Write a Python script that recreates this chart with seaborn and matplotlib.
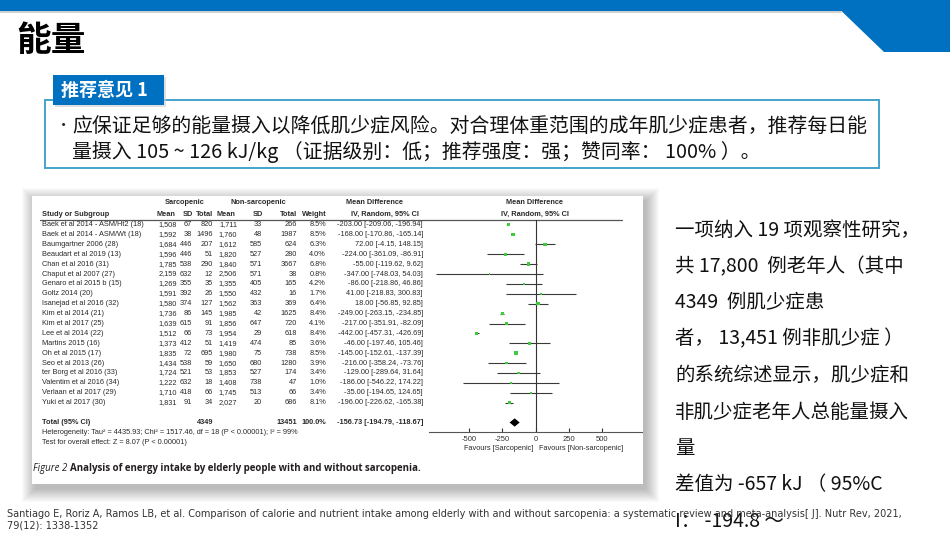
import numpy as np
import pandas as pd
import matplotlib
matplotlib.use("Agg")
import matplotlib.pyplot as plt
import seaborn as sns
from matplotlib.patches import Rectangle, Polygon

# ---------------- data ----------------
studies = [
    "Baek et al 2014 - ASM/Ht2 (18)", "Baek et al 2014 - ASM/Wt (18)", "Baumgartner 2006 (28)",
    "Beaudart et al 2019 (13)", "Chan et al 2016 (31)", "Chaput et al 2007 (27)",
    "Genaro et al 2015 b (15)", "Goltz 2014 (20)", "Isanejad et al 2016 (32)",
    "Kim et al 2014 (21)", "Kim et al 2017 (25)", "Lee et al 2014 (22)", "Martins 2015 (16)",
    "Oh et al 2015 (17)", "Seo et al 2013 (26)", "ter Borg et al 2016 (33)",
    "Valentim et al 2016 (34)", "Verlaan et al 2017 (29)", "Yuki et al 2017 (30)",
]
sar_mean = [1508, 1592, 1684, 1596, 1785, 2159, 1269, 1591, 1580, 1736, 1639, 1512, 1373, 1835, 1434, 1724, 1222, 1710, 1831]
sar_sd = [67, 38, 446, 446, 538, 632, 355, 392, 374, 86, 615, 66, 412, 72, 538, 521, 632, 418, 91]
sar_n = [820, 1496, 207, 51, 290, 12, 35, 26, 127, 145, 91, 73, 51, 695, 59, 53, 18, 66, 34]
non_mean = [1711, 1760, 1612, 1820, 1840, 2506, 1355, 1550, 1562, 1985, 1856, 1954, 1419, 1980, 1650, 1853, 1408, 1745, 2027]
non_sd = [33, 48, 585, 527, 571, 571, 405, 432, 363, 42, 647, 29, 474, 75, 680, 527, 738, 513, 20]
non_n = [266, 1987, 624, 280, 3667, 38, 165, 16, 369, 1625, 720, 618, 85, 738, 1280, 174, 47, 66, 686]
weights = [8.5, 8.5, 6.3, 4.0, 6.8, 0.8, 4.2, 1.7, 6.4, 8.4, 4.1, 8.4, 3.6, 8.5, 3.9, 3.4, 1.0, 3.4, 8.1]
md = [-203.00, -168.00, 72.00, -224.00, -55.00, -347.00, -86.00, 41.00, 18.00, -249.00, -217.00,
      -442.00, -46.00, -145.00, -216.00, -129.00, -186.00, -35.00, -196.00]
ci_low = [-209.06, -170.86, -4.15, -361.09, -119.62, -748.03, -218.86, -218.83, -56.85, -263.15,
          -351.91, -457.31, -197.46, -152.61, -358.24, -289.64, -546.22, -194.65, -226.62]
ci_high = [-196.94, -165.14, 148.15, -86.91, 9.62, 54.03, 46.86, 300.83, 92.85, -234.85, -82.09,
           -426.69, 105.46, -137.39, -73.76, 31.64, 174.22, 124.65, -165.38]
total_sar = 4349
total_non = 13451
total_weight = "100.0%"
pooled = [-156.73, -194.79, -118.67]
xticks = [-500, -250, 0, 250, 500]
heterogeneity = "Heterogeneity: Tau\u00b2 = 4435.93; Chi\u00b2 = 1517.46, df = 18 (P < 0.00001); I\u00b2 = 99%"
overall = "Test for overall effect: Z = 8.07 (P < 0.00001)"

title = "能量"
rec_label = "推荐意见 1"
rec_lines = [
    "应保证足够的能量摄入以降低肌少症风险。对合理体重范围的成年肌少症患者，推荐每日能",
    "量摄入 105 ~ 126 kJ/kg （证据级别：低；推荐强度：强；赞同率： 100% ）。",
]
side_lines = [
    "一项纳入 19 项观察性研究，",
    "共 17,800  例老年人（其中",
    "4349  例肌少症患",
    "者， 13,451 例非肌少症 ）",
    "的系统综述显示，肌少症和",
    "非肌少症老年人总能量摄入",
    "量",
    "差值为 -657 kJ （ 95%C",
    "I： -194.8 ～",
]
footer = [
    "Santiago E, Roriz A, Ramos LB, et al. Comparison of calorie and nutrient intake among elderly with and without sarcopenia: a systematic review and meta-analysis[ J]. Nutr Rev, 2021,",
    "79(12): 1338-1352",
]

# ---------------- setup ----------------
sns.set_theme(style="white")
plt.rcParams["font.family"] = ["Noto Sans CJK SC", "DejaVu Sans"]
W, H = 950, 535
fig = plt.figure(figsize=(9.5, 5.35), dpi=100)
fig.patch.set_facecolor("white")

bg = fig.add_axes([0, 0, 1, 1])
bg.set_xlim(0, W)
bg.set_ylim(H, 0)
bg.axis("off")

BLUE = "#0070C0"
# top bar + corner shape
bg.add_patch(Rectangle((0, 0), W, 11, color=BLUE, lw=0))
bg.add_patch(Polygon([(830, 0), (W, 0), (W, 52), (884, 52)], closed=True, color=BLUE, lw=0))
bg.plot([0, 841], [12, 12], color="#c8c8c8", lw=1.2)

bg.text(16, 41, title, fontsize=25, fontweight="bold", color="black", va="center", ha="left")

# recommendation box
bg.add_patch(Rectangle((45, 100), 834, 68, facecolor="white", edgecolor="#45A3CC", lw=1.4))
bg.add_patch(Rectangle((55, 77), 111, 30, color="#cccccc", lw=0, alpha=0.6))
bg.add_patch(Rectangle((53, 75), 111, 30, color=BLUE, lw=0))
bg.text(61, 90, rec_label, fontsize=13, fontweight="bold", color="white", va="center", ha="left")
bg.text(56, 126, "•", fontsize=11, color="#222", va="center", ha="left")
for i, line in enumerate(rec_lines):
    bg.text(72, 126 + 26 * i, line, fontsize=14.3, color="#111", va="center", ha="left")

# image panel with soft shadow
px0, py0, pw, ph = 32, 196, 611, 288
for k in range(14):
    bg.add_patch(Rectangle((px0 + 3 - k, py0 + 5 - k), pw + 2 * k, ph + 2 * k,
                           color="black", alpha=0.019, lw=0))
bg.add_patch(Rectangle((px0, py0), pw, ph, color="white", lw=0))

# ---------------- forest table text ----------------
TF = ["Liberation Sans", "DejaVu Sans"]
fs = 5.3
tc = "#2a2a2a"
def row_y(r):
    return 224.5 + 9.9 * r

hdr = dict(fontsize=fs, fontweight="bold", color=tc, va="center", family=TF)
bg.text(185, 203, "Sarcopenic", ha="center", **hdr)
bg.text(258, 203, "Non-sarcopenic", ha="center", **hdr)
bg.text(375, 203, "Mean Difference", ha="center", **hdr)
bg.text(535, 203, "Mean Difference", ha="center", **hdr)
bg.text(42, 214, "Study or Subgroup", ha="left", **hdr)
for x, s in [(175, "Mean"), (193, "SD"), (213, "Total"), (235, "Mean"), (263, "SD"), (297, "Total"), (327, "Weight")]:
    bg.text(x, 214, s, ha="right", **hdr)
bg.text(385, 214, "IV, Random, 95% CI", ha="center", **hdr)
bg.text(535, 214, "IV, Random, 95% CI", ha="center", **hdr)
bg.plot([40, 622], [219.5, 219.5], color="#555555", lw=0.9)

cell = dict(fontsize=fs, color=tc, va="center", family=TF)
for i, name in enumerate(studies):
    y = row_y(i)
    bg.text(42, y, name, ha="left", **cell)
    vals = [f"{sar_mean[i]:,}", f"{sar_sd[i]}", f"{sar_n[i]}", f"{non_mean[i]:,}", f"{non_sd[i]}",
            f"{non_n[i]}", f"{weights[i]:.1f}%", f"{md[i]:.2f} [{ci_low[i]:.2f}, {ci_high[i]:.2f}]"]
    for x, v in zip([177, 192, 213, 237, 262, 297, 326, 423], vals):
        bg.text(x, y, v, ha="right", **cell)

yt = row_y(20)
bg.text(42, yt, "Total (95% CI)", ha="left", **hdr)
bg.text(213, yt, f"{total_sar}", ha="right", **hdr)
bg.text(297, yt, f"{total_non}", ha="right", **hdr)
bg.text(326, yt, total_weight, ha="right", **hdr)
bg.text(423, yt, f"{pooled[0]:.2f} [{pooled[1]:.2f}, {pooled[2]:.2f}]", ha="right", **hdr)
bg.text(42, 433, heterogeneity, ha="left", **cell)
bg.text(42, 443, overall, ha="left", **cell)
bg.text(533, 448, "Favours [Sarcopenic]", ha="right", **cell)
bg.text(539, 448, "Favours [Non-sarcopenic]", ha="left", **cell)

# caption
rend = fig.canvas.get_renderer()
cap_fam = ["Open Sans", "DejaVu Sans"]
t1 = bg.text(33, 469, "Figure 2 ", fontsize=7.0, style="italic", color="#231f20", va="center", ha="left", family=cap_fam)
w1 = t1.get_window_extent(renderer=rend).width
bg.text(33 + w1, 469, "Analysis of energy intake by elderly people with and without sarcopenia.",
        fontsize=7.0, fontweight="bold", color="#231f20", va="center", ha="left", family=cap_fam)

# ---------------- forest plot axes ----------------
ax = fig.add_axes([429 / W, 1 - 432 / H, (642 - 429) / W, (432 - 219.5) / H])
ax.patch.set_alpha(0)
ax.set_xlim(-800, 800)
ax.set_ylim((432 - 224.5) / 9.9, (219.5 - 224.5) / 9.9)
df = pd.DataFrame({"study": studies, "md": md, "lo": ci_low, "hi": ci_high, "w": weights, "row": np.arange(len(studies))})
ax.hlines(df["row"], df["lo"], df["hi"], color="#3a3a3a", lw=0.8, zorder=2)
sns.scatterplot(data=df, x="md", y="row", size="w", sizes=(1.2, 7), marker="s", color="#3ccc3c",
                edgecolor="none", legend=False, ax=ax, zorder=3)
ax.axvline(0, color="#333333", lw=0.8, zorder=1)
ax.fill([pooled[1], pooled[0], pooled[2], pooled[0]], [20, 20 - 0.42, 20, 20 + 0.42], color="black", lw=0, zorder=3)
ax.set_xticks(xticks)
ax.set_xticklabels([str(t) for t in xticks], family=TF)
ax.set_yticks([])
ax.set_xlabel("")
ax.set_ylabel("")
ax.tick_params(axis="x", direction="in", length=3, width=0.8, pad=3.0, labelsize=5.5,
               colors="#333333", bottom=True)
for s in ["top", "left", "right"]:
    ax.spines[s].set_visible(False)
ax.spines["bottom"].set_color("#555555")
ax.spines["bottom"].set_linewidth(0.8)
ax.grid(False)

# ---------------- side text and footer ----------------
for i, line in enumerate(side_lines):
    bg.text(675, 230 + 36.4 * i, line, fontsize=14, color="#111", va="center", ha="left")
for i, line in enumerate(footer):
    bg.text(7, 514 + 12 * i, line, fontsize=7.0, color="#333", va="center", ha="left",
            family=["DejaVu Sans"])

fig.savefig("out.png", dpi=100, facecolor="white")
